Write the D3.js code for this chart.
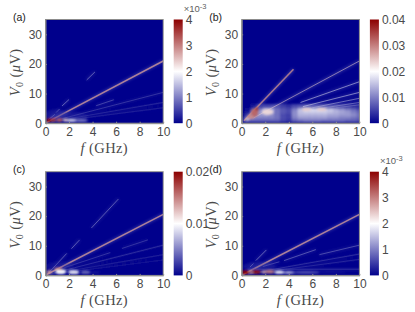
<!DOCTYPE html>
<html>
  <head>
    <meta charset="utf-8">
    <title>V0 vs f maps</title>
    <style>
      html, body { margin: 0; padding: 0; background: #fff; }
      svg { display: block; }
      .tick text { font-family: "Liberation Sans", Arial, sans-serif; font-size: 12px; fill: #4a4a4a; }
      .tick line, .domain { stroke: #8c8c8c; }
      .axlabel { font-family: "Liberation Serif", serif; font-size: 14.5px; fill: #4a4a4a; letter-spacing: 0.4px; }
      .tag { font-family: "Liberation Sans", Arial, sans-serif; font-size: 10.5px; fill: #222; }
      .exp { font-family: "Liberation Sans", Arial, sans-serif; font-size: 9.5px; fill: #606060; }
    </style>
  </head>
  <body>
    <div id="chart"></div>
    <script src="https://cdn.jsdelivr.net/npm/d3@7"></script>
    <script>
    var fTicks = [0, 2, 4, 6, 8, 10];
    var vTicks = [0, 10, 20, 30];

    // ridges: f0, V0, f1, V1, value
    var ridgesA = [
      [0.1, 0.3, 10, 21, 2.8], [3.5, 14.6, 4.2, 17.3, 1.3], [1.4, 5.8, 2, 8, 1.3],
      [0.9, 3.6, 1.2, 4.8, 1.1], [0.2, 1, 0.8, 3, 1.3], [4.3, 5.9, 5.8, 7.9, 0.9],
      [0.5, 0.6, 10, 10.4, 0.7], [0.5, 0.5, 10, 7, 0.5], [0.5, 0.4, 10, 5.2, 0.4]
    ];
    var ridgesB = [
      [0.2, 0.8, 4.4, 18.2, 29], [1, 1.8, 10, 21, 24], [5, 7, 10, 14, 17],
      [5.2, 5.6, 10, 10.4, 17], [6, 5.2, 10, 8.4, 14], [7, 5.2, 10, 7, 12], [8, 5.2, 10, 6.2, 10]
    ];
    var ridgesC = [
      [0.1, 0.3, 10, 20.6, 14], [3.9, 16, 6.2, 25.8, 6], [2.2, 9, 2.9, 12, 6],
      [0.3, 1, 1.8, 7.4, 6], [6.5, 9.1, 8.7, 12, 3.5], [1.6, 2.6, 5.5, 7.7, 3.5],
      [0.5, 0.6, 10, 10.2, 3], [0.5, 0.5, 10, 7, 2], [0.5, 0.4, 10, 5.2, 1.5]
    ];
    var ridgesD = [
      [0.1, 0.3, 10, 20.6, 2.8], [1.2, 5, 2.1, 8.6, 1.3], [0.7, 2.8, 1, 4, 1.2],
      [3.6, 5, 6.3, 8.7, 1.1], [1.8, 3, 3.2, 4.6, 0.9], [6.6, 7, 10, 10.2, 1],
      [0.5, 0.5, 10, 7.2, 0.6], [0.5, 0.4, 10, 5.4, 0.5], [0.5, 2.1, 10, 2.1, 0.7]
    ];

    // blobs: f, V, half width (GHz), half height (uV), value
    var blobsA = [
      [2, 2.2, 1.6, 1.6, 0.5], [0.9, 3, 1, 1.6, 0.5], [3, 0.9, 0.6, 0.45, 1.1], [2.2, 0.9, 0.4, 0.45, 1.9],
      [1.7, 1, 0.2, 0.5, 2.4], [1.2, 1.1, 0.25, 0.6, 3.3], [0.7, 1.1, 0.2, 0.6, 3.6], [0.3, 1.1, 0.25, 0.6, 4]
    ];
    var blobsB = [
      [2.2, 3.8, 0.5, 1, 23], [5.5, 4.6, 0.4, 0.5, 24], [6.8, 4.6, 0.4, 0.5, 24], [0.5, 1.3, 0.2, 0.4, 23],
      [0.8, 2.2, 0.3, 0.8, 29], [1.1, 3.6, 0.3, 1.4, 32], [1.3, 4.8, 0.15, 0.6, 36]
    ];
    var blobsC = [
      [1.2, 3, 1.2, 1.6, 2], [4.2, 1, 0.45, 0.45, 2.5], [3.4, 1.1, 0.4, 0.55, 4.5], [2.4, 1.1, 0.45, 0.7, 9],
      [1.3, 1.2, 0.45, 0.8, 10], [1.1, 2.2, 0.35, 0.35, 15], [0.3, 1.1, 0.2, 0.6, 14]
    ];
    var blobsD = [
      [1.5, 3, 1.4, 1.6, 0.5], [7.5, 1, 1.4, 0.3, 0.5], [5.5, 1, 1.1, 0.4, 0.8], [4, 1, 0.5, 0.5, 1.4],
      [3.2, 1.1, 0.4, 0.55, 2], [2.4, 1.2, 0.4, 0.6, 3], [1.9, 1.1, 0.2, 0.5, 2.7],
      [1.2, 1.2, 0.45, 0.65, 3.9], [0.8, 1.1, 0.2, 0.5, 3], [0.3, 1.1, 0.35, 0.65, 4]
    ];

    // panel (b) background band
    var bandF = d3.range(0, 21).map(function(i) { return i * 0.5; });
    var bandV = [1, 2, 3, 4, 5, 5.8];
    var bandB = [
      [3, 6, 7, 7, 7, 7, 7, 5, 4, 7, 8, 9, 9, 9, 8, 8, 8, 8, 7, 7, 6],
      [1, 7, 10, 10, 10, 10, 9, 6, 5, 10, 12, 12, 12, 12, 12, 11, 11, 10, 10, 9, 8],
      [0, 4, 11, 12, 12, 11, 9, 6, 5, 11, 14, 14, 14, 14, 14, 13, 13, 12, 12, 11, 9],
      [0, 2, 8, 12, 13, 12, 9, 7, 6, 11, 15, 16, 16, 16, 16, 15, 14, 13, 12, 10, 8],
      [0, 1, 5, 10, 13, 13, 9, 7, 6, 10, 15, 17, 18, 18, 17, 16, 14, 12, 10, 8, 6],
      [0, 0, 2, 4, 6, 6, 6, 5, 4, 6, 7, 8, 8, 8, 8, 7, 7, 6, 5, 4, 3]
    ];

    var cbarTicksA = [0, 1, 2, 3, 4];
    var cbarTicksB = [0, 10, 20, 30, 40];
    var cbarTicksC = [0, 10, 20];

    var panels = [
      { tag: "(a)", left: 45.5, top: 19.5, max: 4, ticks: cbarTicksA, fmt: function(d) { return d; }, ridges: ridgesA, blobs: blobsA, exp: true },
      { tag: "(b)", left: 241.7, top: 19.5, max: 40, ticks: cbarTicksB, fmt: function(d) { return d === 0 ? "0" : d3.format(".2f")(d / 1000); }, ridges: ridgesB, blobs: blobsB, band: bandB },
      { tag: "(c)", left: 45.5, top: 171.7, max: 20, ticks: cbarTicksC, fmt: function(d) { return d === 0 ? "0" : d3.format(".2f")(d / 1000); }, ridges: ridgesC, blobs: blobsC },
      { tag: "(d)", left: 241.7, top: 171.7, max: 4, ticks: cbarTicksA, fmt: function(d) { return d; }, ridges: ridgesD, blobs: blobsD, exp: true }
    ];

    var width = 415;
    var height = 312;
    var plotW = 117.7;
    var plotH = 103.7;

    var svg = d3.select("#chart").append("svg")
        .attr("width", width)
        .attr("height", height);

    var defs = svg.append("defs");

    function blur(id, sd) {
      defs.append("filter").attr("id", id)
          .attr("filterUnits", "userSpaceOnUse")
          .attr("x", 0).attr("y", 0).attr("width", width).attr("height", height)
          .append("feGaussianBlur").attr("stdDeviation", sd);
    }
    blur("blurLine", 0.6);
    blur("blurWide", 1.6);
    blur("blurBlob", 1);
    blur("blurBand", 1.1);

    var colorStops = [0, 0.25, 0.5, 0.75, 1];
    var colorVals = ["#00008c", "#7f7fc4", "#ffffff", "#c57f7f", "#8c0000"];

    panels.forEach(function(p, i) {
      var x = d3.scaleLinear().domain([0, 10]).range([0, plotW]);
      var y = d3.scaleLinear().domain([0, 35]).range([plotH, 0]);
      var color = d3.scaleLinear()
          .domain(colorStops.map(function(s) { return s * p.max; }))
          .range(colorVals)
          .clamp(true);

      var g = svg.append("g").attr("transform", "translate(" + p.left + "," + p.top + ")");

      defs.append("clipPath").attr("id", "clip" + i)
          .append("rect").attr("width", plotW).attr("height", plotH);

      var plot = g.append("g").attr("clip-path", "url(#clip" + i + ")");
      plot.append("rect").attr("width", plotW).attr("height", plotH).attr("fill", colorVals[0]);

      if (p.band) {
        var cells = [];
        p.band.forEach(function(row, r) {
          row.forEach(function(v, c) { cells.push({ f: bandF[c], V: bandV[r], v: v }); });
        });
        plot.append("g").attr("filter", "url(#blurBand)")
            .selectAll("rect").data(cells).enter().append("rect")
            .attr("x", function(d) { return x(d.f - 0.25); })
            .attr("y", function(d) { return y(d.V + 0.6); })
            .attr("width", x(0.5) - x(0) + 0.5)
            .attr("height", y(0) - y(1.2) + 0.5)
            .attr("fill", function(d) { return color(d.v); });
      }

      // soft glow beside the ridges
      plot.append("g").attr("filter", "url(#blurWide)")
          .selectAll("line").data(p.ridges).enter().append("line")
          .attr("x1", function(d) { return x(d[0]); })
          .attr("y1", function(d) { return y(d[1]); })
          .attr("x2", function(d) { return x(d[2]); })
          .attr("y2", function(d) { return y(d[3]); })
          .attr("stroke", function(d) { return color(d[4] * 0.5); })
          .attr("stroke-opacity", 0.3)
          .attr("stroke-width", 2.5);

      plot.append("g").attr("filter", "url(#blurLine)")
          .selectAll("line").data(p.ridges).enter().append("line")
          .attr("x1", function(d) { return x(d[0]); })
          .attr("y1", function(d) { return y(d[1]); })
          .attr("x2", function(d) { return x(d[2]); })
          .attr("y2", function(d) { return y(d[3]); })
          .attr("stroke", function(d) { return color(d[4]); })
          .attr("stroke-opacity", function(d) { return d[4] / p.max > 0.6 ? 0.8 : 0.6; })
          .attr("stroke-width", function(d) { return d[4] / p.max > 0.6 ? 1.5 : 0.9; });

      // blobs sit on top so the low-voltage hot spots stay visible
      plot.append("g").attr("filter", "url(#blurBlob)")
          .selectAll("ellipse").data(p.blobs).enter().append("ellipse")
          .attr("cx", function(d) { return x(d[0]); })
          .attr("cy", function(d) { return y(d[1]); })
          .attr("rx", function(d) { return x(d[2]) - x(0); })
          .attr("ry", function(d) { return y(0) - y(d[3]); })
          .attr("fill", function(d) { return color(d[4]); })
          .attr("fill-opacity", function(d) { return d[4] / p.max < 0.2 ? 0.3 : 0.95; });

      // axes
      g.append("g").attr("transform", "translate(0," + plotH + ")")
          .call(d3.axisBottom(x).tickValues(fTicks).tickSizeInner(-1.5).tickSizeOuter(0).tickPadding(4));
      g.append("g")
          .call(d3.axisLeft(y).tickValues(vTicks).tickSizeInner(-1.5).tickSizeOuter(0).tickPadding(3.5));
      g.append("rect").attr("width", plotW).attr("height", plotH)
          .attr("fill", "none").attr("stroke", "#8c8c8c");

      var xl = g.append("text").attr("class", "axlabel")
          .attr("x", plotW / 2).attr("y", plotH + 29.5).attr("text-anchor", "middle");
      xl.append("tspan").attr("font-style", "italic").text("f");
      xl.append("tspan").text(" (GHz)");

      var yl = g.append("text").attr("class", "axlabel")
          .attr("transform", "translate(-25.5," + (plotH / 2 + 1) + ") rotate(-90)")
          .attr("text-anchor", "middle");
      yl.append("tspan").attr("font-style", "italic").text("V");
      yl.append("tspan").attr("font-size", "10px").attr("dy", 2.5).text("0");
      yl.append("tspan").attr("dy", -2.5).text(" (");
      yl.append("tspan").attr("font-style", "italic").text("μ");
      yl.append("tspan").text("V)");

      g.append("text").attr("class", "tag").attr("x", -32.5).attr("y", 1).text(p.tag);

      // colorbar
      var cy = d3.scaleLinear().domain([0, p.max]).range([plotH, 0]);
      var cb = g.append("g").attr("transform", "translate(" + (plotW + 10.5) + ",0)");
      var gid = "cbar" + i;
      var lg = defs.append("linearGradient").attr("id", gid)
          .attr("x1", 0).attr("y1", 1).attr("x2", 0).attr("y2", 0);
      colorStops.forEach(function(s, k) {
        lg.append("stop").attr("offset", s).attr("stop-color", colorVals[k]);
      });
      cb.append("rect").attr("width", 9).attr("height", plotH).attr("fill", "url(#" + gid + ")");
      var cax = cb.append("g").attr("transform", "translate(9,0)")
          .call(d3.axisRight(cy).tickValues(p.ticks).tickFormat(p.fmt).tickSize(0).tickPadding(3));
      cax.select(".domain").remove();

      if (p.exp) {
        var ex = cb.append("text").attr("class", "exp").attr("x", 10).attr("y", -7.5);
        ex.append("tspan").text("×10");
        ex.append("tspan").attr("font-size", "7.5px").attr("dy", -3).text("-3");
      }
    });
    </script>
  </body>
</html>
